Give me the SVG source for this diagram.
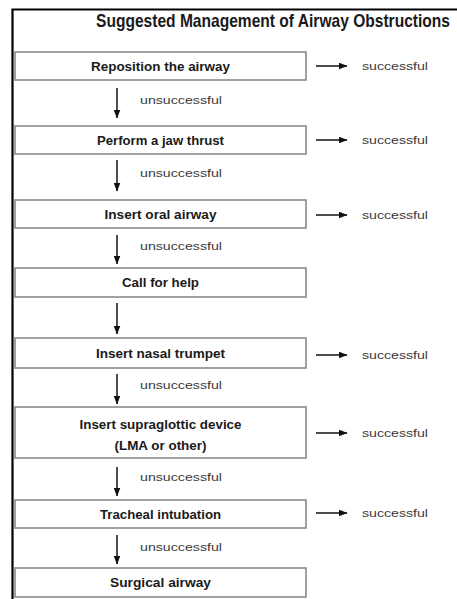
<svg xmlns="http://www.w3.org/2000/svg" width="457" height="599" viewBox="0 0 457 599">
<defs>
<marker id="ah" markerWidth="9" markerHeight="7" refX="8.5" refY="3.5" orient="auto" markerUnits="userSpaceOnUse">
<path d="M0,0 L9,3.5 L0,7 Z" fill="#111"/>
</marker>
</defs>
<style>
.box{fill:#fff;stroke:#8a8a8a;stroke-width:1.6}
.bt{font-family:"Liberation Sans Narrow","Liberation Sans",Arial,sans-serif;font-weight:bold;font-size:12px;fill:#1a1a1a;text-anchor:middle}
.lbl{font-family:"Liberation Sans Narrow","Liberation Sans",Arial,sans-serif;font-size:11.5px;fill:#3a3a3a}
.title{font-family:"Liberation Sans Narrow","Liberation Sans",Arial,sans-serif;font-weight:bold;font-size:14px;fill:#1a1a1a}
.conn{stroke:#111;stroke-width:1.5;fill:none;marker-end:url(#ah)}
.frame{stroke:#000;stroke-width:2.2;fill:none}
</style>
<rect width="457" height="599" fill="#fff"/>
<path class="frame" d="M12.5,599 L12.5,9.5 L457,9.5"/>
<text class="title" transform="translate(96,27) scale(1,1.28)" x="0" y="0" textLength="354" lengthAdjust="spacingAndGlyphs">Suggested Management of Airway Obstructions</text>

<g id="n1"><rect class="box" x="15" y="52" width="291" height="28"/><text class="bt" x="160.5" y="70.5" textLength="139" lengthAdjust="spacingAndGlyphs">Reposition the airway</text></g>
<g id="n2"><rect class="box" x="15" y="126" width="291" height="28"/><text class="bt" x="160.5" y="144.5" textLength="127" lengthAdjust="spacingAndGlyphs">Perform a jaw thrust</text></g>
<g id="n3"><rect class="box" x="15" y="200" width="291" height="28"/><text class="bt" x="160.5" y="218.5" textLength="112" lengthAdjust="spacingAndGlyphs">Insert oral airway</text></g>
<g id="n4"><rect class="box" x="15" y="268" width="291" height="29"/><text class="bt" x="160.5" y="287" textLength="77" lengthAdjust="spacingAndGlyphs">Call for help</text></g>
<g id="n5"><rect class="box" x="15" y="338" width="291" height="30"/><text class="bt" x="160.5" y="357.5" textLength="129" lengthAdjust="spacingAndGlyphs">Insert nasal trumpet</text></g>
<g id="n6"><rect class="box" x="15" y="407" width="291" height="51"/><text class="bt" x="160.5" y="429" textLength="162" lengthAdjust="spacingAndGlyphs">Insert supraglottic device</text><text class="bt" x="160.5" y="449.5" textLength="92" lengthAdjust="spacingAndGlyphs">(LMA or other)</text></g>
<g id="n7"><rect class="box" x="15" y="500" width="291" height="28"/><text class="bt" x="160.5" y="518.5" textLength="121" lengthAdjust="spacingAndGlyphs">Tracheal intubation</text></g>
<g id="n8"><rect class="box" x="15" y="568" width="291" height="29"/><text class="bt" x="160.5" y="587" textLength="101" lengthAdjust="spacingAndGlyphs">Surgical airway</text></g>

<g id="connectors">
<line class="conn" x1="117" y1="88" x2="117" y2="118"/>
<line class="conn" x1="117" y1="160" x2="117" y2="191"/>
<line class="conn" x1="117" y1="235" x2="117" y2="264"/>
<line class="conn" x1="117" y1="303" x2="117" y2="334"/>
<line class="conn" x1="117" y1="374" x2="117" y2="404"/>
<line class="conn" x1="117" y1="467" x2="117" y2="496"/>
<line class="conn" x1="117" y1="535" x2="117" y2="564"/>

<line class="conn" x1="316" y1="66" x2="347" y2="66"/>
<line class="conn" x1="316" y1="140" x2="347" y2="140"/>
<line class="conn" x1="316" y1="215" x2="347" y2="215"/>
<line class="conn" x1="316" y1="355" x2="347" y2="355"/>
<line class="conn" x1="316" y1="433" x2="347" y2="433"/>
<line class="conn" x1="316" y1="513" x2="347" y2="513"/>

<text class="lbl" x="140" y="104" textLength="82" lengthAdjust="spacingAndGlyphs">unsuccessful</text>
<text class="lbl" x="140" y="177" textLength="82" lengthAdjust="spacingAndGlyphs">unsuccessful</text>
<text class="lbl" x="140" y="250" textLength="82" lengthAdjust="spacingAndGlyphs">unsuccessful</text>
<text class="lbl" x="140" y="389" textLength="82" lengthAdjust="spacingAndGlyphs">unsuccessful</text>
<text class="lbl" x="140" y="481" textLength="82" lengthAdjust="spacingAndGlyphs">unsuccessful</text>
<text class="lbl" x="140" y="551" textLength="82" lengthAdjust="spacingAndGlyphs">unsuccessful</text>

<text class="lbl" x="362" y="70" textLength="66" lengthAdjust="spacingAndGlyphs">successful</text>
<text class="lbl" x="362" y="144" textLength="66" lengthAdjust="spacingAndGlyphs">successful</text>
<text class="lbl" x="362" y="219" textLength="66" lengthAdjust="spacingAndGlyphs">successful</text>
<text class="lbl" x="362" y="359" textLength="66" lengthAdjust="spacingAndGlyphs">successful</text>
<text class="lbl" x="362" y="437" textLength="66" lengthAdjust="spacingAndGlyphs">successful</text>
<text class="lbl" x="362" y="517" textLength="66" lengthAdjust="spacingAndGlyphs">successful</text>
</g>
</svg>
